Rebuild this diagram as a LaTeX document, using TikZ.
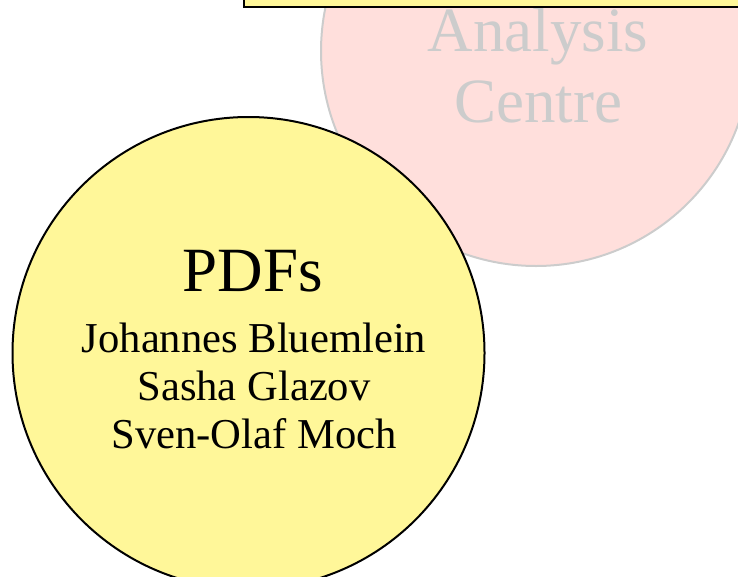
\documentclass[tikz,border=0pt]{standalone}
\usepackage{fontspec}
\setmainfont{Liberation Serif}
\definecolor{padyellow}{RGB}{255,247,153}
\definecolor{padpink}{RGB}{255,223,220}
\definecolor{padgrey}{RGB}{204,204,204}
\begin{document}
\begin{tikzpicture}[x=1pt, y=-1pt, bubble/.style={circle, inner sep=0pt, line width=2pt}]
\useasboundingbox (0,0) rectangle (738,576);
\clip (0,0) rectangle (738,576);
\node (centre)[bubble, draw=padgrey, fill=padpink, minimum size=430pt] at (536,51) {};
\node (centretext)[anchor=base, align=center, text=padgrey, font=\fontsize{63}{71}\selectfont] at (538,122) {Analysis\\Centre};
\node (pdfs)[bubble, draw=black, fill=padyellow, minimum size=472pt] at (248.5,353) {};
\node (pdftitle)[anchor=base, font=\fontsize{63}{71}\selectfont] at (253,291) {PDFs};
\node (pdfnames)[anchor=base, align=center, font=\fontsize{42.6}{48}\selectfont] at (254,448) {Johannes Bluemlein\\Sasha Glazov\\Sven-Olaf Moch};
\draw[line width=2pt, fill=padyellow] (244,7) rectangle (760,-30);
\end{tikzpicture}
\end{document}
